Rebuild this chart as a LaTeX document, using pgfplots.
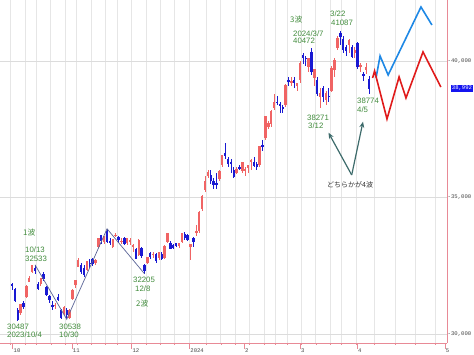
\documentclass[border=0pt]{standalone}
\usepackage{fontspec}
\setmainfont{Liberation Sans}
\newfontfamily\jp{Noto Sans CJK JP}
\newfontfamily\monof{Liberation Mono}
\usepackage{pgfplots}
\usepackage{pgfplotstable}
\pgfplotsset{compat=1.18}
\usetikzlibrary{arrows.meta}
\definecolor{candRed}{HTML}{F06464}
\definecolor{candBlue}{HTML}{1919D2}
\definecolor{projBlue}{HTML}{1E88E5}
\definecolor{projRed}{HTML}{E01B1B}
\definecolor{pinkc}{HTML}{E88A96}
\definecolor{gridc}{HTML}{E6E6E6}
\definecolor{gridcy}{HTML}{DCDCDC}
\definecolor{labelc}{HTML}{444444}
\definecolor{annoGreen}{HTML}{3F8A3A}
\definecolor{arrowc}{HTML}{3D6B6B}
\definecolor{wavec}{HTML}{5A6496}
\definecolor{priceBox}{HTML}{1414F0}

\pgfplotstableread{
i o h l c
3 30773 31100 30700 31075
5 31380 31789 31320 31746
6 31920 32106 31900 32041
7 32270 32526 32230 32494
10 31830 32060 31750 32040
15 31050 31150 30900 31062
18 30780 31030 30700 30991
20 30600 30900 30540 30859
21 31300 31650 31250 31601
22 31800 31970 31700 31950
23 32480 32770 32450 32708
26 32350 32680 32300 32646
29 32600 32750 32520 32695
30 33200 33530 33150 33519
32 33400 33600 33300 33585
35 33200 33480 33150 33452
36 33600 33700 33550 33625
38 33400 33500 33300 33408
40 33350 33500 33260 33486
41 33400 33500 33250 33431
42 33200 33300 33000 33231
44 32900 33480 32850 33445
47 32600 32820 32550 32791
49 32900 33000 32800 32926
51 32800 33000 32700 32970
53 32800 33250 32750 33219
54 33400 33700 33350 33675
58 33250 33350 33150 33305
59 33400 33700 33350 33681
62 33200 33300 32693 33288
64 33700 33990 33600 33763
65 33800 34500 33700 34441
66 34600 35100 34500 35049
67 35300 35800 35200 35577
68 35800 36000 35700 35901
72 35700 35990 35600 35963
73 36200 36570 36100 36546
78 35900 36100 35850 36026
80 36000 36300 35900 36286
81 36000 36100 35800 36011
82 36100 36200 35900 36158
83 36300 36400 36000 36354
86 36200 36900 36100 36863
88 37200 38000 37100 37963
89 37600 37800 37500 37703
90 37700 38200 37600 38157
91 38300 38800 38200 38487
95 38400 39150 38300 39098
97 39200 39400 39100 39239
99 39100 39200 38900 39166
100 39300 39990 39200 39910
103 39800 40100 39600 40090
105 39400 39700 39100 39688
107 38700 39000 38271 38797
109 38600 38900 38400 38807
111 38900 39800 38850 39740
112 39700 40100 39400 40003
113 40500 40900 40400 40815
117 40600 40800 40300 40762
119 40300 40500 40100 40369
121 39800 39937 39588 39838
123 39674 39918 39523 39773
}\upT

\pgfplotstableread{
i o h l c
0 31820 31883 31622 31759
1 31620 31680 31178 31237
2 30878 30938 30487 30526
4 31138 31200 30900 30994
8 32400 32533 32200 32315
9 31830 31890 31600 31659
11 32170 32260 31950 32042
12 31700 31750 31380 31430
13 31380 31420 31150 31259
14 31050 31210 30870 30999
16 31350 31460 31200 31269
17 30850 30900 30550 30601
19 30850 30950 30538 30697
24 32500 32600 32200 32272
25 32400 32520 32100 32166
27 32600 32750 32400 32568
28 32750 32800 32500 32585
31 33600 33620 33300 33424
33 33750 33853 33350 33388
34 33400 33500 33250 33354
37 33550 33600 33350 33447
39 33500 33540 33250 33321
43 33100 33150 32750 32775
45 33150 33200 32800 32858
46 32500 32550 32205 32307
48 32950 33000 32750 32843
50 32900 32950 32600 32686
52 32900 33000 32700 32758
55 33300 33400 33100 33140
56 33250 33300 33100 33169
57 33300 33350 33200 33255
60 33650 33750 33450 33539
61 33600 33650 33400 33464
63 33500 33570 33200 33377
69 35800 36000 35500 35619
70 35600 35700 35300 35477
71 35500 35900 35300 35466
74 36600 36990 36400 36517
75 36400 36500 36100 36226
76 36300 36400 35900 36236
77 36000 36100 35700 35751
79 36100 36200 36000 36065
84 36300 36500 36100 36160
85 36200 36300 36000 36119
87 36900 37100 36700 36897
92 38500 38700 38400 38470
93 38400 38500 38100 38363
94 38300 38400 38100 38262
96 39300 39400 39100 39233
98 39300 39400 39000 39208
101 40200 40300 39900 40109
102 40100 40200 39800 40097
104 40300 40472 39500 39598
106 39300 39400 38700 38820
108 39000 39100 38500 38695
110 38700 39000 38500 38707
114 41000 41087 40600 40888
115 40800 40900 40300 40414
116 40500 40600 40200 40398
118 40500 40600 40100 40168
120 40646 40697 39718 39803
122 39500 39611 39254 39451
124 39315 39468 38774 38992
}\downT

\begin{document}
\begin{tikzpicture}
\useasboundingbox (0pt,-12pt) rectangle (474pt,343pt);
\begin{axis}[
  at={(0pt,0pt)}, anchor=south west,
  scale only axis, width=447pt, height=343pt,
  xmin=-4.17, xmax=151.04, ymin=29670, ymax=42234,
  clip=false,
  axis x line*=bottom, axis y line*=right,
  axis line style={-, draw=pinkc, line width=0.8pt},
  tick align=outside,
  major tick length=6pt, minor tick length=2pt,
  xtick={0.24,20.8,41.5,61.6,80.6,100,119.8,150.3},
  xticklabels={10,11,12,2024,2,3,4,5},
  minor xtick={-0.5,4.5,8.5,13.5,18.5,22.5,27.5,32.5,36.5,41.5,46.5,51.5,56.5,61.5,67.5,72.5,77.5,82.5,87.5,91.5,95.5,100.5,105.5,110.5,114.5,119.5,125.7,133,140,146.9},
  xtick style={draw=pinkc, line width=0.6pt},
  xmajorgrids=false, xminorgrids=true,
  x grid style={draw=gridc, line width=0.8pt},
  ytick={30000,35000,40000},
  yticklabels={{-30,000},{-35,000},{-40,000}},
  ytick style={draw=none},
  ymajorgrids=true,
  y grid style={draw=gridcy, line width=0.8pt},
  ticklabel style={font=\monof\fontsize{5.6}{6}\selectfont, text=labelc},
  xticklabel style={anchor=north west, inner sep=0pt, xshift=0.8pt},
  yticklabel style={anchor=west, inner sep=0pt, xshift=-5.5pt},
]
% wicks
\addplot[draw=none, mark=none, forget plot, error bars/.cd, y dir=both, y explicit, error mark=none,
  error bar style={draw=candRed, line width=0.65pt}]
  table[x=i, y expr={(\thisrow{h}+\thisrow{l})/2}, y error expr={(\thisrow{h}-\thisrow{l})/2}] {\upT};
\addplot[draw=none, mark=none, forget plot, error bars/.cd, y dir=both, y explicit, error mark=none,
  error bar style={draw=candBlue, line width=0.65pt}]
  table[x=i, y expr={(\thisrow{h}+\thisrow{l})/2}, y error expr={(\thisrow{h}-\thisrow{l})/2}] {\downT};
% bodies
\addplot[draw=none, mark=none, forget plot, error bars/.cd, y dir=both, y explicit, error mark=none,
  error bar style={draw=candRed, line width=2.4pt}]
  table[x=i, y expr={(\thisrow{o}+\thisrow{c})/2}, y error expr={abs(\thisrow{c}-\thisrow{o})/2+15}] {\upT};
\addplot[draw=none, mark=none, forget plot, error bars/.cd, y dir=both, y explicit, error mark=none,
  error bar style={draw=candBlue, line width=2.4pt}]
  table[x=i, y expr={(\thisrow{o}+\thisrow{c})/2}, y error expr={abs(\thisrow{c}-\thisrow{o})/2+15}] {\downT};
% wave lines
\addplot[wavec, line width=0.7pt, mark=none] coordinates {(8,32533) (19,30538) (33,33853) (46,32205)};
% projections
\addplot[projBlue, line width=1.6pt, mark=none] coordinates {(126.4,39377) (127.8,40183) (130.6,39487) (142.0,41978) (145.8,41319)};
\addplot[projRed, line width=1.6pt, mark=none] coordinates {(125.2,39377) (125.9,39634) (130.2,37875) (134.4,39414) (136.8,38645) (142.7,40330) (148.9,39048)};
% current price box
\node[fill=priceBox, text=white, font=\monof\fontsize{5.6}{6}\selectfont, inner xsep=1.2pt, inner ysep=1.6pt, anchor=west] at (axis cs:151.04,38992) [xshift=3.5pt] {38,992};
\end{axis}
% annotations
\begin{scope}[every node/.style={anchor=west, inner sep=0pt, font=\fontsize{7.8}{9}\selectfont, text=annoGreen}]
\node at (23pt,110pt) {{\jp 1波}};
\node at (25pt,93pt) {10/13};
\node at (25pt,84pt) {32533};
\node at (7pt,16pt) {30487};
\node at (7pt,8pt) {2023/10/4};
\node at (59pt,16pt) {30538};
\node at (59pt,8pt) {10/30};
\node at (133pt,63pt) {32205};
\node at (135pt,54pt) {12/8};
\node at (136pt,39pt) {{\jp 2波}};
\node at (290pt,323pt) {{\jp 3波}};
\node at (293pt,309.5pt) {2024/3/7};
\node at (293pt,302pt) {40472};
\node at (330pt,329pt) {3/22};
\node at (331pt,320.5pt) {41087};
\node at (307pt,225pt) {38271};
\node at (308pt,217.5pt) {3/12};
\node at (357pt,242pt) {38774};
\node at (357pt,233pt) {4/5};
\end{scope}
\node[anchor=west, inner sep=0pt, font=\jp\fontsize{7}{8}\selectfont, text=black!80] at (327pt,158pt) {どちらかが4波};
\draw[arrowc, line width=1.2pt, -{Stealth[length=6pt, width=5pt]}] (351.7pt,168pt) -- (328.5pt,210.3pt);
\draw[arrowc, line width=1.2pt, -{Stealth[length=6pt, width=5pt]}] (351.7pt,168pt) -- (363pt,221.3pt);
\end{tikzpicture}
\end{document}
